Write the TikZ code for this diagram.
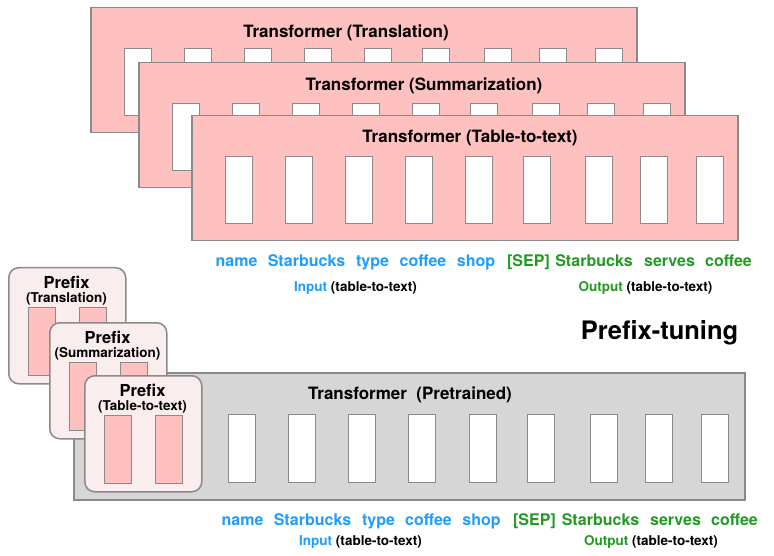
\documentclass[tikz,border=0pt]{standalone}
\usepackage{fontspec}
\setmainfont{TeX Gyre Heros}
\usetikzlibrary{positioning}

\definecolor{framegray}{HTML}{8A8A8A}
\definecolor{tpink}{HTML}{FFC0C0}
\definecolor{ppink}{HTML}{FAEDED}
\definecolor{pgray}{HTML}{D6D6D6}
\definecolor{inblue}{HTML}{1E9CFF}
\definecolor{outgreen}{HTML}{229A22}

\tikzset{
  tframe/.style={draw=framegray, line width=1.5pt, fill=tpink, anchor=north west,
                 minimum width=546pt, minimum height=125pt, inner sep=0pt},
  gframe/.style={draw=framegray, line width=1.5pt, fill=pgray, anchor=north west,
                 minimum width=671pt, minimum height=127pt, inner sep=0pt},
  tcell/.style={draw=framegray, line width=1.2pt, fill=white, anchor=north west,
                minimum width=27pt, minimum height=67pt, inner sep=0pt},
  pcell/.style={draw=framegray, line width=1.2pt, fill=tpink, anchor=north west,
                minimum width=27pt, minimum height=68pt, inner sep=0pt},
  pbox/.style={draw=framegray, line width=1.5pt, fill=ppink, rounded corners=10pt,
               anchor=north west, minimum width=117pt, minimum height=116pt, inner sep=0pt},
  ttitle/.style={font=\fontsize{17}{19}\selectfont\bfseries, anchor=base, inner sep=0pt},
  ptitle/.style={font=\fontsize{16.5}{18}\selectfont\bfseries, anchor=base, inner sep=0pt},
  psub/.style={font=\fontsize{13.5}{15}\selectfont\bfseries, anchor=base, inner sep=0pt},
  word/.style={font=\fontsize{16}{18}\selectfont\bfseries, anchor=base, inner sep=0pt},
  inword/.style={word, text=inblue},
  outword/.style={word, text=outgreen},
  caption/.style={font=\fontsize{13.5}{15}\selectfont\bfseries, anchor=base, inner sep=0pt},
}

\begin{document}
\begin{tikzpicture}[x=1pt, y=-1pt]
\useasboundingbox (0,0) rectangle (774,556);

% ---- task-specific fine-tuned transformers (stacked copies) ----
\foreach \k/\fx/\fy/\tx/\ty/\lab in {
    1/90/7/256/31/Translation,
    2/138/62/286/29/Summarization,
    3/191/115/279/28/Table-to-text} {
  \node[tframe] (f\k) at (\fx,\fy) {};
  \node[ttitle] (f\k title) at ([shift={(\tx,\ty)}]f\k.north west) {Transformer (\lab)};
  \foreach \c [count=\j] in {34,94,154,214,274,332,394,449,505}
    \node[tcell] (f\k c\j) at ([shift={(\c,41)}]f\k.north west) {};
}

% ---- token sequence under the fine-tuned model ----
\node[inword]  (tw1) at (236.5,266) {name};
\node[inword]  (tw2) at (306.5,266) {Starbucks};
\node[inword]  (tw3) at (372.5,266) {type};
\node[inword]  (tw4) at (423,266)   {coffee};
\node[inword]  (tw5) at (476,266)   {shop};
\node[outword] (tw6) at (528.5,266) {[SEP]};
\node[outword] (tw7) at (594,266)   {Starbucks};
\node[outword] (tw8) at (669.5,266) {serves};
\node[outword] (tw9) at (728.5,266) {coffee};
\node[caption] (tin)  at (355.5,291) {\textcolor{inblue}{Input} (table-to-text)};
\node[caption] (tout) at (645.5,291) {\textcolor{outgreen}{Output} (table-to-text)};

% ---- heading ----
\node[font=\fontsize{25.5}{28}\selectfont\bfseries, anchor=base, inner sep=0pt]
  (ptune) at (659.5,339) {Prefix-tuning};

% ---- frozen pretrained transformer ----
\node[gframe] (g) at (73,372) {};
\node[ttitle] (gtitle) at ([shift={(337,27)}]g.north west) {Transformer\ \ (Pretrained)};
\foreach \c [count=\j] in {155,215,275,335,396,454,517,572,628}
  \node[tcell, minimum height=68pt] (gc\j) at ([shift={(\c,42)}]g.north west) {};

% ---- task prefixes (stacked) ----
\foreach \k/\px/\py/\lab in {
    1/8/267/Translation,
    2/49/322/Summarization,
    3/84/375/Table-to-text} {
  \node[pbox] (p\k) at (\px,\py) {};
  \node[ptitle] (p\k title) at ([shift={(58.5,21)}]p\k.north west) {Prefix};
  \node[psub]   (p\k sub)   at ([shift={(58.5,35)}]p\k.north west) {(\lab)};
  \node[pcell] (p\k a) at ([shift={(20,40)}]p\k.north west) {};
  \node[pcell] (p\k b) at ([shift={(71,40)}]p\k.north west) {};
}

% ---- token sequence under the pretrained model ----
\node[inword]  (bw1) at (242.5,525) {name};
\node[inword]  (bw2) at (312.5,525) {Starbucks};
\node[inword]  (bw3) at (378.5,525) {type};
\node[inword]  (bw4) at (428.5,525) {coffee};
\node[inword]  (bw5) at (481.5,525) {shop};
\node[outword] (bw6) at (534.5,525) {[SEP]};
\node[outword] (bw7) at (600.5,525) {Starbucks};
\node[outword] (bw8) at (675.5,525) {serves};
\node[outword] (bw9) at (734.5,525) {coffee};
\node[caption] (bin)  at (360.5,545) {\textcolor{inblue}{Input} (table-to-text)};
\node[caption] (bout) at (651,545)   {\textcolor{outgreen}{Output} (table-to-text)};
\end{tikzpicture}
\end{document}
